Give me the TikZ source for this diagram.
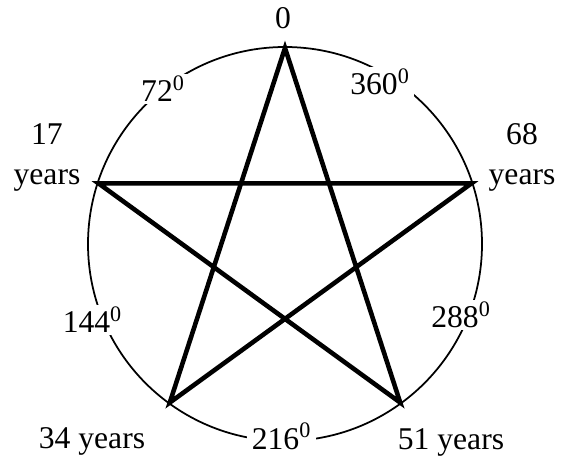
\documentclass[tikz,border=0pt]{standalone}
\usepackage{fontspec}
\setmainfont{Liberation Serif}
\begin{document}
\begin{tikzpicture}[lbl/.style={fill=white, inner xsep=2.5pt, inner ysep=1pt, font=\fontsize{18}{22.7}\selectfont},
    yrs/.style={align=center, inner sep=0pt, font=\fontsize{18}{22.7}\selectfont}]
\useasboundingbox (-5.70,-4.28) rectangle (5.60,4.88);
\draw[line width=1pt](0,0) circle (3.94);
\foreach \i/\a in {0/90,1/162,2/234,3/306,4/18}
    \coordinate (v\i) at (\a:3.92);
\draw[line width=2.6pt](v0)--(v2)--(v4)--(v1)--(v3)--cycle;
\node[lbl, anchor=base](zero) at (-0.04,4.30){0};
\node[lbl, anchor=base](a360) at (1.90,2.98){360\textsuperscript{0}};
\node[lbl, anchor=base](a72) at (-2.44,2.84){72\textsuperscript{0}};
\node[lbl, anchor=base](a144) at (-3.85,-1.78){144\textsuperscript{0}};
\node[lbl, anchor=base](a288) at (3.52,-1.68){288\textsuperscript{0}};
\node[lbl, anchor=base](a216) at (-0.07,-4.10){216\textsuperscript{0}};
\node[yrs](y17) at (-4.76,1.73){17\\years};
\node[yrs](y68) at (4.74,1.73){68\\years};
\node[lbl, anchor=base](y34) at (-3.86,-4.08){34 years};
\node[lbl, anchor=base](y51) at (3.32,-4.10){51 years};
\end{tikzpicture}
\end{document}
